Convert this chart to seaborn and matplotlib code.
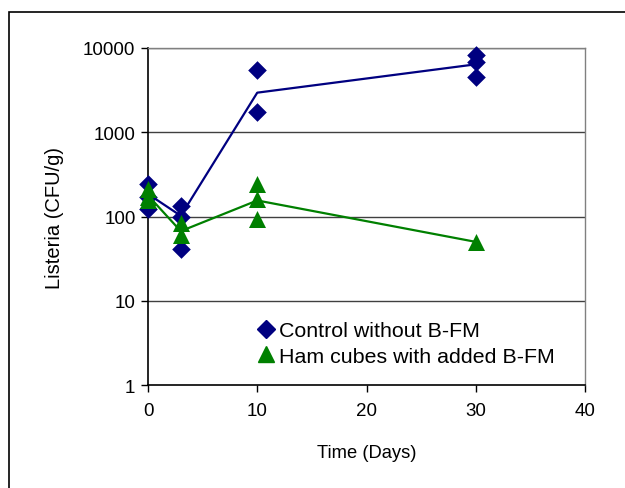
import pandas as pd
import matplotlib
matplotlib.use("Agg")
import matplotlib.pyplot as plt
import matplotlib.ticker as mticker
from matplotlib.lines import Line2D
from matplotlib.patches import Rectangle
import seaborn as sns

# Data (CFU/g)
control_days = [0, 0, 0, 3, 3, 3, 10, 10, 30, 30, 30]
control_cfu = [240, 170, 123, 134, 100, 41, 5480, 1740, 8260, 6820, 4530]
ham_days = [0, 0, 0, 3, 3, 10, 10, 10, 30]
ham_cfu = [210, 170, 155, 83, 60, 240, 160, 93, 50]

mean_days = [0, 3, 10, 30]
control_mean = [185, 102, 2950, 6400]
ham_mean = [178, 67, 155, 50]

x_ticks = [0, 10, 20, 30, 40]
y_ticks = [1, 10, 100, 1000, 10000]

navy = "#000080"
green = "#008000"

sns.set_style("white")
plt.rcParams["font.family"] = ["Liberation Sans", "DejaVu Sans"]
plt.rcParams["text.color"] = "black"
plt.rcParams["axes.labelcolor"] = "black"
plt.rcParams["xtick.color"] = "black"
plt.rcParams["ytick.color"] = "black"

fig = plt.figure(figsize=(6.25, 4.89), dpi=100)
ax = fig.add_axes([0.2368, 0.2106, 0.6992, 0.6892])

# outer chart frame
fig.patches.append(Rectangle((8.5 / 625, -0.1), 1.2, 1 - 12.5 / 489 + 0.1,
                             transform=fig.transFigure, fill=False,
                             edgecolor="black", linewidth=1.2, clip_on=False))

df_c = pd.DataFrame({"day": control_days, "cfu": control_cfu})
df_h = pd.DataFrame({"day": ham_days, "cfu": ham_cfu})
df_m = pd.DataFrame({"day": mean_days, "control": control_mean, "ham": ham_mean})

sns.lineplot(data=df_m, x="day", y="control", color=navy, linewidth=1.6, ax=ax, zorder=3)
sns.lineplot(data=df_m, x="day", y="ham", color=green, linewidth=1.6, ax=ax, zorder=3)
sns.scatterplot(data=df_c, x="day", y="cfu", marker="D", s=90, color=navy,
                edgecolor=navy, linewidth=0, ax=ax, zorder=4, clip_on=False)
sns.scatterplot(data=df_h, x="day", y="cfu", marker="^", s=150, color=green,
                edgecolor=green, linewidth=0, ax=ax, zorder=5, clip_on=False)

ax.set_yscale("log")
ax.set_xlim(0, 40)
ax.set_ylim(1, 10000)
ax.set_xticks(x_ticks)
ax.set_yticks(y_ticks)
ax.yaxis.set_major_formatter(mticker.FuncFormatter(lambda v, p: f"{v:g}" if v < 1e4 else "10000"))
ax.yaxis.set_minor_locator(mticker.NullLocator())
ax.tick_params(axis="both", labelsize=13.5, length=5, width=1, color="black",
               direction="out", bottom=True, left=True)
ax.tick_params(axis="y", pad=4)
ax.tick_params(axis="x", pad=7)

for v in y_ticks[1:]:
    ax.axhline(v, color="#404040", linewidth=1, zorder=1)

for s in ["left", "bottom"]:
    ax.spines[s].set_color("black")
    ax.spines[s].set_linewidth(1.2)
for s in ["top", "right"]:
    ax.spines[s].set_color("#808080")
    ax.spines[s].set_linewidth(1)

ax.set_xlabel("Time (Days)", fontsize=13.2, labelpad=18)
ax.set_ylabel("Listeria (CFU/g)", fontsize=14.5, labelpad=14)

handles = [
    Line2D([], [], marker="D", color=navy, linestyle="none", markersize=9),
    Line2D([], [], marker="^", color=green, linestyle="none", markersize=11),
]
ax.legend(handles, ["Control without B-FM", "Ham cubes with added B-FM"],
          loc="upper left", bbox_to_anchor=(0.233, 0.214), frameon=False,
          fontsize=15.4, handlelength=0.7, handletextpad=0.25, labelspacing=0.3,
          borderaxespad=0)

fig.savefig("out.png", dpi=100)
